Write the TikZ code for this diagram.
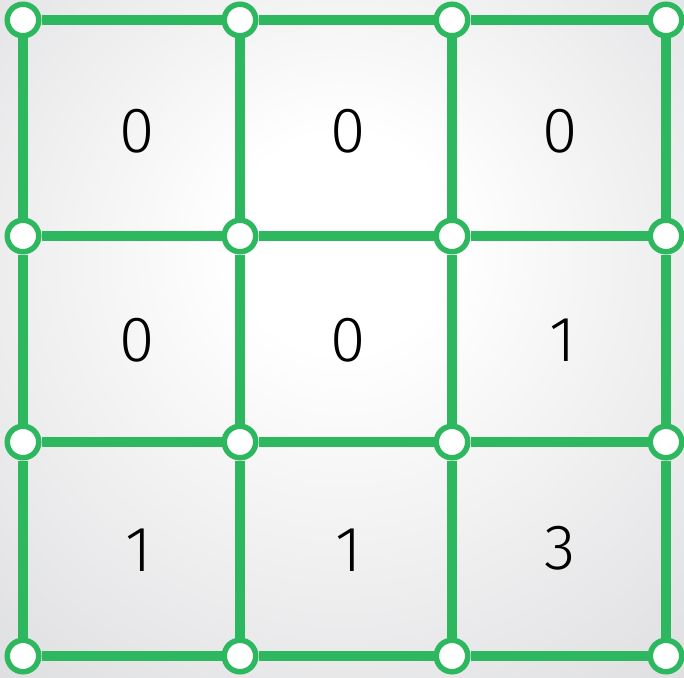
\documentclass[tikz,border=0pt]{standalone}
\usepackage{fontspec}
\setmainfont{Fira Sans}
\newfontfamily\countfont{Fira Sans Light}
\usepackage{xcolor}
\usepackage{tikz}
\usetikzlibrary{backgrounds}
\definecolor{gridgreen}{RGB}{45,184,95}
\definecolor{bggrey}{RGB}{186,187,191}
\pgfdeclareradialshading{bgglow}{\pgfpoint{0bp}{8bp}}{%
  color(0bp)=(white); color(8bp)=(white); color(72bp)=(bggrey)}
\tikzset{
  vertex/.style={circle, draw=gridgreen, line width=5.5pt, fill=white,
                 minimum size=31.5pt, inner sep=0pt},
  edge/.style={draw=gridgreen, line width=10pt},
  count/.style={font=\countfont\fontsize{64}{66}\selectfont, inner sep=0pt},
}

\begin{document}
\begin{tikzpicture}[x=1pt, y=-1pt]

\useasboundingbox (0,0) rectangle (684,677);

% ── Vertices ──────────────────────────────────────────────────────────────────
\node[vertex] (v11) at (23,20) {};
\node[vertex] (v12) at (240,20) {};
\node[vertex] (v13) at (452,20) {};
\node[vertex] (v14) at (666,20) {};

\node[vertex] (v21) at (23,236) {};
\node[vertex] (v22) at (240,236) {};
\node[vertex] (v23) at (452,236) {};
\node[vertex] (v24) at (666,236) {};

\node[vertex] (v31) at (23,442) {};
\node[vertex] (v32) at (240,442) {};
\node[vertex] (v33) at (452,442) {};
\node[vertex] (v34) at (666,442) {};

\node[vertex] (v41) at (23,656) {};
\node[vertex] (v42) at (240,656) {};
\node[vertex] (v43) at (452,656) {};
\node[vertex] (v44) at (666,656) {};

% ── Cell counts ───────────────────────────────────────────────────────────────
\node[count] (c11) at (137,131) {0};
\node[count] (c12) at (348,131) {0};
\node[count] (c13) at (560,131) {0};

\node[count] (c21) at (137,340) {0};
\node[count] (c22) at (348,340) {0};
\node[count] (c23) at (563,340) {1};

\node[count] (c31) at (139,550) {1};
\node[count] (c32) at (349,550) {1};
\node[count] (c33) at (560,548) {3};

\begin{scope}[on background layer]
% ── Background glow ───────────────────────────────────────────────────────────
\shade[shading=bgglow] (0,0) rectangle (684,677);

% ── Horizontal edges ──────────────────────────────────────────────────────────
\draw[edge] (v11) -- (v12) -- (v13) -- (v14);
\draw[edge] (v21) -- (v22) -- (v23) -- (v24);
\draw[edge] (v31) -- (v32) -- (v33) -- (v34);
\draw[edge] (v41) -- (v42) -- (v43) -- (v44);

% ── Vertical edges ────────────────────────────────────────────────────────────
\draw[edge] (v11) -- (v21) -- (v31) -- (v41);
\draw[edge] (v12) -- (v22) -- (v32) -- (v42);
\draw[edge] (v13) -- (v23) -- (v33) -- (v43);
\draw[edge] (v14) -- (v24) -- (v34) -- (v44);
\end{scope}

\end{tikzpicture}
\end{document}
